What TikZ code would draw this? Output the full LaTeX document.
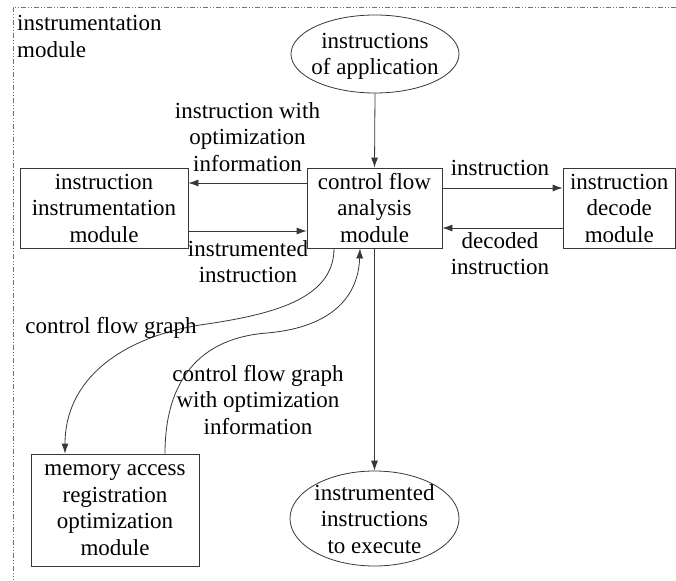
\documentclass[tikz,border=0pt]{standalone}
\usepackage{fontspec}
\setmainfont{Liberation Serif}
\usetikzlibrary{arrows.meta,shapes.geometric}

\begin{document}
\begin{tikzpicture}[x=1pt,y=-1pt,
  font=\fontsize{23}{26.5}\selectfont,
  every node/.style={align=center, inner sep=0pt},
  lin/.style={draw=black!78, line width=0.8pt},
  arr/.style={lin, -{Latex[length=10pt,width=7pt]}},
  modbox/.style={lin, rectangle},
  oval/.style={lin, ellipse},
  frame/.style={draw=black!55, line width=0.8pt,
    dash pattern=on 5pt off 2pt on 1pt off 2pt on 1pt off 2pt}]

% canvas
\useasboundingbox[fill=white] (0,0) rectangle (676,580);

% dash-dotted outline of the instrumentation module
\coordinate (frameTop) at (676,7);
\coordinate (frameCorner) at (13,7);
\coordinate (frameBottom) at (13,580);
\draw[frame] (frameTop) -- (frameCorner) -- (frameBottom);
\node[align=left, anchor=west] (frameLabel) at (17,36.5) {instrumentation\\module};

% modules
\node[oval, minimum width=168pt, minimum height=78pt] (app) at (375,54) {};
\node (appText) at (375,56.5) {instructions\\of application};

\node[modbox, minimum width=135pt, minimum height=80pt] (cfa) at (374.5,208)
  {control flow\\analysis\\module};
\node[modbox, minimum width=168pt, minimum height=80pt] (iim) at (104,208)
  {instruction\\instrumentation\\module};
\node[modbox, minimum width=112.5pt, minimum height=80pt] (dec) at (619.25,208)
  {instruction\\decode\\module};
\node[modbox, minimum width=168pt, minimum height=112pt] (mem) at (115,510)
  {memory access\\registration\\optimization\\module};

\node[oval, minimum width=169pt, minimum height=95pt] (out) at (374.5,518.5) {};
\node (outText) at (374.5,519) {instrumented\\instructions\\to execute};

% straight connectors
\draw[arr] (app.south) -- (cfa.north);
\draw[arr] ([yshift=20pt]cfa.east) -- ([yshift=20pt]dec.west);
\draw[arr] ([yshift=-20pt]dec.west) -- ([yshift=-20pt]cfa.east);
\draw[arr] ([yshift=25pt]cfa.west) -- ([yshift=25pt]iim.east);
\draw[arr] ([yshift=-23pt]iim.east) -- ([yshift=-23pt]cfa.west);
\draw[arr] (cfa.south) -- (out.north);

% curved connectors to and from the optimization module
\coordinate (cfgMid) at (200,325);
\draw[arr] ([xshift=-40.5pt]cfa.south) .. controls (334,300) and (270,315) .. (cfgMid)
  .. controls (120,338) and (65,380) .. ([xshift=-50pt]mem.north);
\coordinate (optMid) at (267,333);
\draw[arr] ([xshift=50pt]mem.north) .. controls (165,380) and (200,338) .. (optMid)
  .. controls (325,328) and (358,302) .. ([xshift=-14.5pt]cfa.south);

% connector labels
\node (lblOpt) at (247.5,137) {instruction with\\optimization\\information};
\node (lblInstrumented) at (248,261.5) {instrumented\\instruction};
\node (lblInstr) at (500,168) {instruction};
\node (lblDecoded) at (500,253.5) {decoded\\instruction};
\node (lblCfg) at (111,328) {control flow graph};
\node (lblCfgOpt) at (258,400) {control flow graph\\with optimization\\information};
\end{tikzpicture}
\end{document}
